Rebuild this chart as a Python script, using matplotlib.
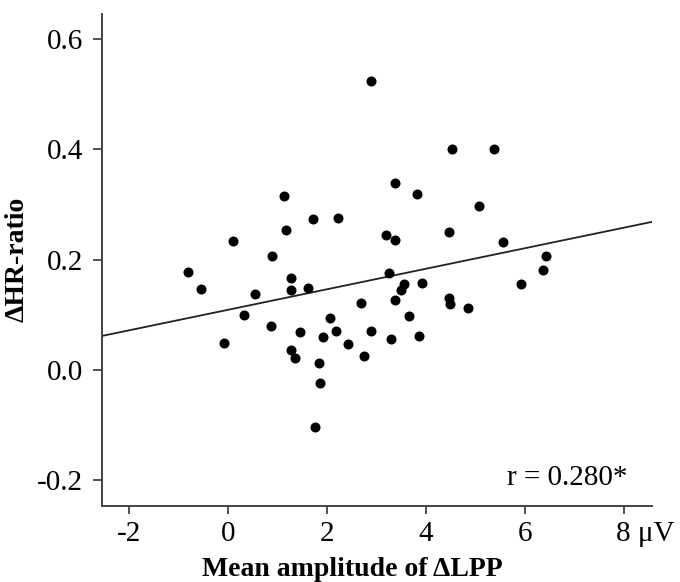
import numpy as np
import matplotlib
matplotlib.use('Agg')
import matplotlib.pyplot as plt
import matplotlib.transforms as mtransforms

plt.rcParams['font.family'] = ['Liberation Serif', 'DejaVu Serif']

# Mean amplitude of delta LPP (uV) and delta HR-ratio
lpp = [2.89, 1.14, 1.71, 2.23, 1.17, 0.11, 0.90, 3.19, 4.52, 5.37,
       3.37, 3.82, 5.08, 3.37, 4.46, 5.55, 6.42, -0.80, -0.545, 1.27,
       1.28, 1.61, 0.545, 0.33, 0.87, -0.07, 1.46, 2.06, 2.18, 1.93,
       2.43, 1.28, 1.35, 1.83, 1.85, 1.75, 2.68, 2.89, 2.75, 3.25,
       3.29, 3.37, 6.36, 3.56, 3.49, 3.93, 5.93, 4.47, 4.48, 4.86,
       3.66, 3.85]
hr_ratio = [0.523, 0.316, 0.274, 0.276, 0.254, 0.233, 0.207, 0.244, 0.401, 0.401,
            0.339, 0.318, 0.297, 0.236, 0.250, 0.232, 0.207, 0.178, 0.147, 0.167,
            0.144, 0.149, 0.138, 0.099, 0.080, 0.049, 0.069, 0.095, 0.071, 0.059,
            0.047, 0.036, 0.022, 0.012, -0.024, -0.104, 0.122, 0.071, 0.025, 0.176,
            0.056, 0.127, 0.181, 0.155, 0.144, 0.157, 0.155, 0.131, 0.120, 0.113,
            0.098, 0.061]

# regression line as drawn in the figure
fit_intercept = 0.109
fit_slope = 0.0186
r_text = 'r = 0.280*'

xticks = [-2, 0, 2, 4, 6, 8]
xticklabels = ['-2', '0', '2', '4', '6', '8 \u03bcV']
yticks = [-0.2, 0.0, 0.2, 0.4, 0.6]
yticklabels = ['-0.2', '0.0', '0.2', '0.4', '0.6']
xlim = (-2.55, 8.57)
ylim = (-0.246, 0.645)

fig = plt.figure(figsize=(6.8, 5.82), dpi=100)
ax = fig.add_axes([0.1496, 0.131, 0.8094, 0.845])

ax.scatter(lpp, hr_ratio, s=52, color='black', zorder=3, linewidths=0)

xs = np.array(xlim)
ax.plot(xs, fit_intercept + fit_slope * xs, color='#222222', lw=1.3)

ax.set_xlim(*xlim)
ax.set_ylim(*ylim)
ax.set_xticks(xticks)
ax.set_xticklabels(xticklabels)
ax.set_yticks(yticks)
ax.set_yticklabels(yticklabels)

for s in ['top', 'right']:
    ax.spines[s].set_visible(False)
for s in ['left', 'bottom']:
    ax.spines[s].set_color('#444444')
    ax.spines[s].set_linewidth(1.4)
ax.tick_params(axis='both', direction='out', width=1.3,
               color='#444444', labelsize=21)
ax.tick_params(axis='y', length=6.5, pad=7)
ax.tick_params(axis='x', length=6, pad=5)

# keep the "8" of the last label centred on its tick, unit trailing
last = ax.get_xticklabels()[-1]
last.set_ha('left')
last.set_transform(last.get_transform() +
                   mtransforms.ScaledTranslation(-5.5 / 72, 0, fig.dpi_scale_trans))

ax.text(0.955, 0.03, r_text, transform=ax.transAxes, ha='right', va='bottom',
        fontsize=21)

ax.set_xlabel('Mean amplitude of \u0394LPP', fontsize=20, fontweight='bold', labelpad=7)
ax.xaxis.label.set_x(0.455)
ax.set_ylabel('\u0394HR-ratio', fontsize=20, fontweight='bold', labelpad=5)

fig.savefig('out.png', dpi=100)
